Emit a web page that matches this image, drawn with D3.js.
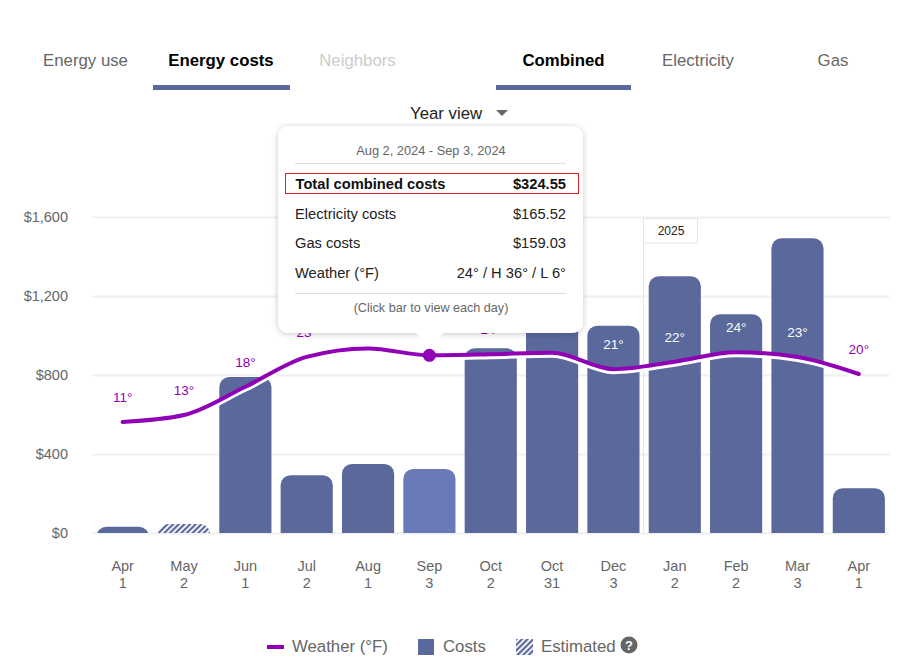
<!DOCTYPE html>
<html>
<head>
<meta charset="utf-8">
<script src="https://d3js.org/d3.v7.min.js"></script>
<style>
    html, body { margin: 0; padding: 0; background: #fff; }
    svg { display: block; }
    text { font-family: "Liberation Sans", Arial, sans-serif; }
</style>
</head>
<body>
<div id="chartDiv"></div>
<script>
var months = ["Apr", "May", "Jun", "Jul", "Aug", "Sep", "Oct", "Oct", "Dec", "Jan", "Feb", "Mar", "Apr"];
var days = ["1", "2", "1", "2", "1", "3", "2", "31", "3", "2", "2", "3", "1"];
var costs = [32, 45, 790, 293, 350, 324.55, 935, 1150, 1050, 1300, 1108, 1492, 227];
var estimated = [false, true, false, false, false, false, false, false, false, false, false, false, false];
var tempLine = [11, 12.3, 17.6, 23.2, 24.8, 23.5, 23.7, 24, 20.9, 22.3, 24.1, 23.2, 20];
var tempLabels = ["11", "13", "18", "23", "25", "24", "24", "24", "21", "22", "24", "23", "20"];
var labelInBar = [false, false, false, false, false, false, false, true, true, true, true, true, false];
var yTicks = [0, 400, 800, 1200, 1600];
var leftTabs = ["Energy use", "Energy costs", "Neighbors"];
var rightTabs = ["Combined", "Electricity", "Gas"];
var tipRows = [["Electricity costs", "$165.52"], ["Gas costs", "$159.03"], ["Weather (°F)", "24° / H 36° / L 6°"]];
var selected = 5;

var barColor = "#5a689c";
var selColor = "#6a7ab9";
var purple = "#9000b5";
var gray = "#666";

var svg = d3.select("#chartDiv").append("svg").attr("width", 916).attr("height", 663);
var defs = svg.append("defs");

var hatch = defs.append("pattern")
    .attr("id", "hatch")
    .attr("width", 4).attr("height", 4)
    .attr("patternUnits", "userSpaceOnUse")
    .attr("patternTransform", "rotate(45)");
hatch.append("rect").attr("width", 4).attr("height", 4).attr("fill", "#fff");
hatch.append("rect").attr("width", 2.2).attr("height", 4).attr("fill", barColor);

var shadow = defs.append("filter").attr("id", "tipShadow")
    .attr("x", "-10%").attr("y", "-10%").attr("width", "120%").attr("height", "120%");
shadow.append("feDropShadow")
    .attr("dx", 0).attr("dy", 1).attr("stdDeviation", 3)
    .attr("flood-color", "#000").attr("flood-opacity", 0.22);

var x = d3.scaleBand().domain(d3.range(months.length)).range([92, 889.5]).paddingInner(0.15).paddingOuter(0.075);
var y = d3.scaleLinear().domain([0, 1600]).range([533, 217]);
var yTemp = d3.scaleLinear().domain([0, 40]).range([480.6, 267.4]);
var xMid = function(i) { return x(i) + x.bandwidth() / 2; };

defs.append("clipPath").attr("id", "plotClip")
    .append("rect").attr("x", 0).attr("y", 0).attr("width", 916).attr("height", y(0));

// tabs on top
function drawTabs(names, centers, active, disabled) {
    names.forEach(function(name, i) {
        svg.append("text")
            .attr("x", centers[i]).attr("y", 66)
            .attr("text-anchor", "middle")
            .attr("font-size", 16.8)
            .attr("font-weight", i == active ? "bold" : "normal")
            .attr("fill", i == active ? "#000" : (i == disabled ? "#ccc" : gray))
            .text(name);
    });
}
drawTabs(leftTabs, [85.5, 221, 357.5], 1, 2);
drawTabs(rightTabs, [563.5, 698, 833], 0, -1);
svg.append("rect").attr("x", 153).attr("y", 85).attr("width", 137).attr("height", 5).attr("fill", barColor);
svg.append("rect").attr("x", 496).attr("y", 85).attr("width", 135).attr("height", 5).attr("fill", barColor);

svg.append("text").attr("x", 410).attr("y", 119).attr("font-size", 16.8).attr("fill", "#222").text("Year view");
svg.append("path").attr("d", "M496,110L508,110L502,116Z").attr("fill", gray);

// y axis + grid
var yAxis = d3.axisLeft(y)
    .tickValues(yTicks)
    .tickFormat(function(d) { return "$" + d3.format(",")(d); })
    .tickSizeInner(-797.5)
    .tickSizeOuter(0)
    .tickPadding(24);
var yG = svg.append("g").attr("transform", "translate(92,0)").call(yAxis);
yG.select(".domain").remove();
yG.selectAll("line").attr("stroke", "#f0f0f0").attr("stroke-width", 2);
yG.selectAll("text").attr("font-size", 14.5).attr("fill", gray)
    .attr("font-family", "Liberation Sans");

// 2025 marker
svg.append("line").attr("x1", 643.5).attr("x2", 643.5).attr("y1", 217).attr("y2", y(0)).attr("stroke", "#e6e6e6");
svg.append("rect").attr("x", 643.5).attr("y", 218.5).attr("width", 54).attr("height", 24.5)
    .attr("fill", "#fff").attr("stroke", "#e6e6e6");
svg.append("text").attr("x", 671).attr("y", 235).attr("text-anchor", "middle")
    .attr("font-size", 12).attr("fill", "#222").text("2025");

// bars
svg.append("g").attr("clip-path", "url(#plotClip)")
    .selectAll("rect")
    .data(costs)
    .enter()
    .append("rect")
    .attr("x", function(d, i) { return x(i); })
    .attr("y", function(d) { return y(d); })
    .attr("width", x.bandwidth())
    .attr("height", function(d) { return y(0) - y(d) + 14; })
    .attr("rx", 10)
    .attr("fill", function(d, i) {
        if (estimated[i]) return "url(#hatch)";
        return i == selected ? selColor : barColor;
    });

// x labels
months.forEach(function(m, i) {
    svg.append("text").attr("x", xMid(i)).attr("y", 571).attr("text-anchor", "middle")
        .attr("font-size", 14.5).attr("fill", gray).text(m);
    svg.append("text").attr("x", xMid(i)).attr("y", 588).attr("text-anchor", "middle")
        .attr("font-size", 14.5).attr("fill", gray).text(days[i]);
});

// weather line, white copy sits just under it
var line = d3.line()
    .x(function(d, i) { return xMid(i); })
    .y(function(d) { return yTemp(d); })
    .curve(d3.curveMonotoneX);

svg.append("path").attr("d", line(tempLine))
    .attr("transform", "translate(0,3)")
    .attr("fill", "none").attr("stroke", "#fff").attr("stroke-width", 4);
svg.append("path").attr("d", line(tempLine))
    .attr("fill", "none").attr("stroke", purple).attr("stroke-width", 4).attr("stroke-linecap", "round");

svg.append("g").selectAll("text")
    .data(tempLabels)
    .enter()
    .append("text")
    .attr("x", function(d, i) { return xMid(i); })
    .attr("y", function(d, i) { return yTemp(tempLine[i]) - 20; })
    .attr("text-anchor", "middle")
    .attr("font-size", 13.5)
    .attr("fill", function(d, i) { return labelInBar[i] ? "#fff" : purple; })
    .text(function(d) { return d + "°"; });

svg.append("circle")
    .attr("cx", xMid(selected)).attr("cy", yTemp(tempLine[selected])).attr("r", 6.5)
    .attr("fill", purple);

// tooltip
var tip = svg.append("g");
tip.append("rect").attr("x", 278).attr("y", 126).attr("width", 305).attr("height", 207).attr("rx", 11)
    .attr("fill", "#fff").attr("filter", "url(#tipShadow)");
tip.append("path").attr("d", "M416,333L444,333L430,347Z").attr("fill", "#fff");
tip.append("text").attr("x", 431).attr("y", 155).attr("text-anchor", "middle")
    .attr("font-size", 12.8).attr("fill", gray).text("Aug 2, 2024 - Sep 3, 2024");
tip.append("line").attr("x1", 295).attr("x2", 566).attr("y1", 163.5).attr("y2", 163.5).attr("stroke", "#ddd");
tip.append("rect").attr("x", 285.5).attr("y", 173.5).attr("width", 293).attr("height", 20)
    .attr("fill", "none").attr("stroke", "#e02020").attr("stroke-width", 1);
tip.append("text").attr("x", 295.5).attr("y", 189).attr("font-size", 14.7).attr("font-weight", "bold")
    .attr("fill", "#111").text("Total combined costs");
tip.append("text").attr("x", 566).attr("y", 189).attr("text-anchor", "end").attr("font-size", 14.7)
    .attr("font-weight", "bold").attr("fill", "#111").text("$324.55");
tipRows.forEach(function(row, i) {
    var rowY = [219, 248, 278][i];
    tip.append("text").attr("x", 295).attr("y", rowY).attr("font-size", 14.7).attr("fill", "#222").text(row[0]);
    tip.append("text").attr("x", 566).attr("y", rowY).attr("text-anchor", "end").attr("font-size", 14.7)
        .attr("fill", "#222").text(row[1]);
});
tip.append("line").attr("x1", 295).attr("x2", 566).attr("y1", 293.5).attr("y2", 293.5).attr("stroke", "#ddd");
tip.append("text").attr("x", 431).attr("y", 312).attr("text-anchor", "middle")
    .attr("font-size", 12.6).attr("fill", gray).text("(Click bar to view each day)");

// legend
var legend = svg.append("g");
legend.append("rect").attr("x", 267).attr("y", 645).attr("width", 17).attr("height", 4).attr("fill", purple);
legend.append("text").attr("x", 292).attr("y", 652).attr("font-size", 16.8).attr("fill", gray).text("Weather (°F)");
legend.append("rect").attr("x", 418).attr("y", 639).attr("width", 16).attr("height", 16).attr("fill", barColor);
legend.append("text").attr("x", 443).attr("y", 652).attr("font-size", 16.8).attr("fill", gray).text("Costs");
legend.append("rect").attr("x", 516).attr("y", 639).attr("width", 17).attr("height", 16).attr("fill", "url(#hatch)");
legend.append("text").attr("x", 541).attr("y", 652).attr("font-size", 16.8).attr("fill", gray).text("Estimated");
legend.append("circle").attr("cx", 629).attr("cy", 645).attr("r", 8.5).attr("fill", gray);
legend.append("text").attr("x", 629).attr("y", 650).attr("text-anchor", "middle").attr("font-size", 13)
    .attr("font-weight", "bold").attr("fill", "#fff").text("?");
</script>
</body>
</html>
